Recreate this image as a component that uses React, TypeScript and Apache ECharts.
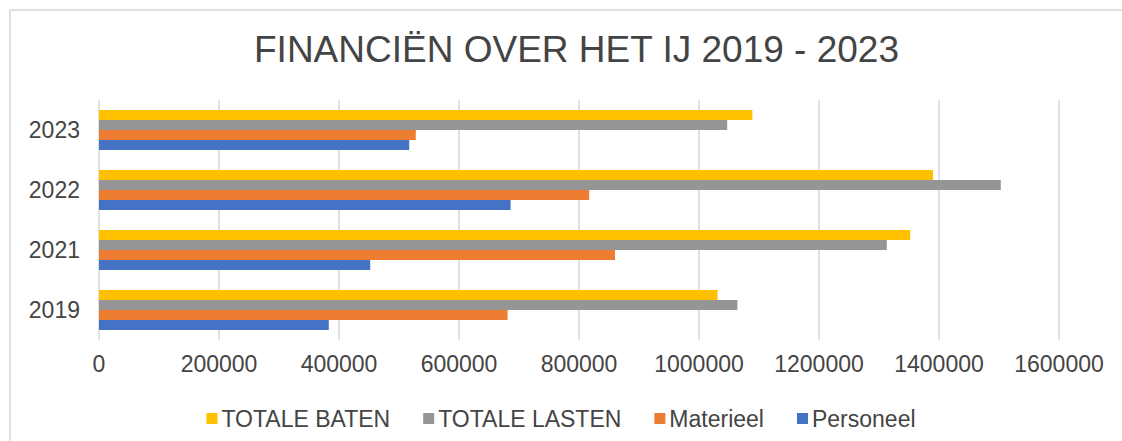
import React, { useEffect, useRef } from "react";
import * as echarts from "echarts";

const categories = ["2019", "2021", "2022", "2023"];
const personeel = [383000, 452000, 686000, 517000];
const materieel = [681000, 860000, 817000, 528000];
const totaleLasten = [1064000, 1313000, 1503000, 1047000];
const totaleBaten = [1031000, 1352000, 1390000, 1089000];
const legendOrder = ["TOTALE BATEN", "TOTALE LASTEN", "Materieel", "Personeel"];
const titleText = "FINANCIËN OVER HET IJ 2019 - 2023";

const FONT = "'Liberation Sans', Arial, Helvetica, sans-serif";
const TEXT = "#444444";

export default function App() {
  const ref = useRef<HTMLDivElement>(null);
  useEffect(() => {
    document.body.style.margin = "0";
    if (!ref.current) return;
    const chart = echarts.init(ref.current, undefined, { renderer: "svg" });
    const mk = (name: string, data: number[], color: string) => ({
      name,
      type: "bar",
      data,
      barGap: "0%",
      barCategoryGap: "33.3%",
      itemStyle: { color },
    });
    chart.setOption({
      animation: false,
      backgroundColor: "#ffffff",
      textStyle: { fontFamily: FONT },
      title: {
        text: titleText,
        left: 249,
        top: 26,
        textStyle: { fontFamily: FONT, fontSize: 37, fontWeight: "normal", color: TEXT },
      },
      graphic: [
        {
          type: "rect",
          shape: { x: 10, y: 10, width: 1130, height: 450 },
          style: { fill: "none", stroke: "#d6d6d6", lineWidth: 1.5 },
          silent: true,
        },
      ],
      legend: {
        data: legendOrder,
        left: "center",
        top: 402,
        icon: "rect",
        itemWidth: 11,
        itemHeight: 11,
        itemGap: 33,
        textStyle: { fontFamily: FONT, fontSize: 23, color: TEXT, padding: [0, 0, 0, -1] },
      },
      grid: { left: 99, right: 63, top: 100, bottom: 101, containLabel: false },
      xAxis: {
        type: "value",
        min: 0,
        max: 1600000,
        interval: 200000,
        axisLine: { show: false },
        axisTick: { show: false },
        splitLine: { show: true, lineStyle: { color: "#d9d9d9", width: 1.5 } },
        axisLabel: {
          fontFamily: FONT,
          fontSize: 23,
          color: TEXT,
          margin: 12,
          formatter: (v: number) => String(v),
        },
      },
      yAxis: {
        type: "category",
        data: categories,
        axisLine: { show: false },
        axisTick: { show: false },
        axisLabel: { fontFamily: FONT, fontSize: 23, color: TEXT, margin: 19 },
      },
      series: [
        mk("TOTALE BATEN", totaleBaten, "#FFC000"),
        mk("TOTALE LASTEN", totaleLasten, "#959595"),
        mk("Materieel", materieel, "#ED7D31"),
        mk("Personeel", personeel, "#4472C4"),
      ],
    });
    return () => chart.dispose();
  }, []);
  return <div ref={ref} style={{ width: 1122, height: 441 }} />;
}
